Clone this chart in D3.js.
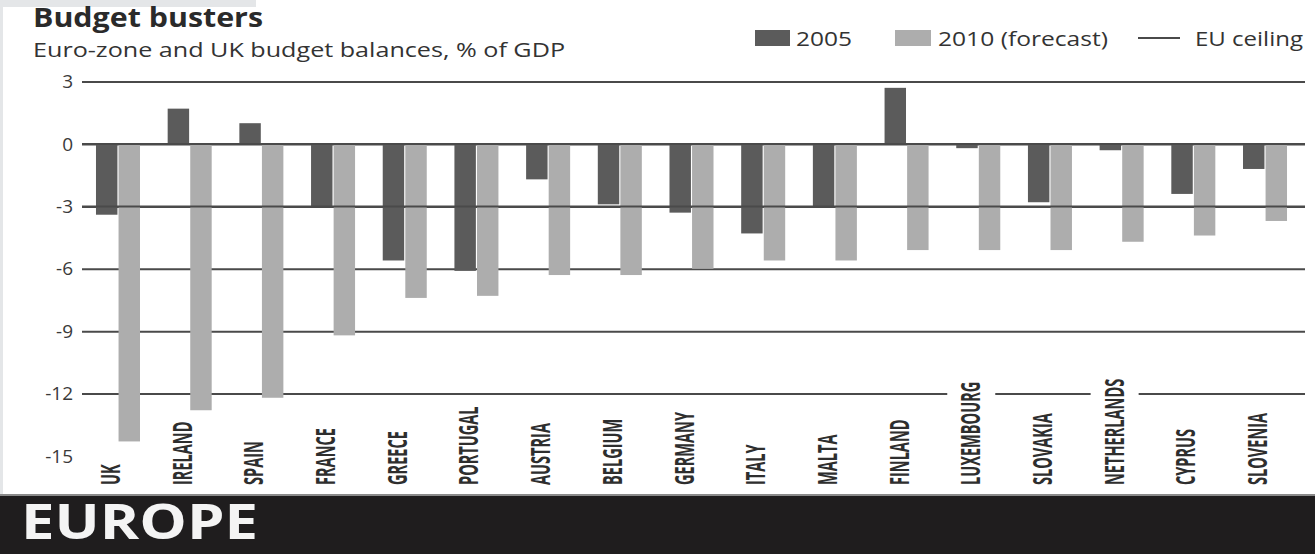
<!DOCTYPE html>
<html>
<head>
<meta charset="utf-8">
<script src="https://cdn.jsdelivr.net/npm/d3@7"></script>
<style>
  body { margin: 0; background: #ffffff; }
  #chart { width: 1315px; height: 554px; }
  text { font-family: "Open Sans", "DejaVu Sans", sans-serif; }
</style>
</head>
<body>
<div id="chart"></div>
<script>
// data
const countries = ["UK", "IRELAND", "SPAIN", "FRANCE", "GREECE", "PORTUGAL", "AUSTRIA", "BELGIUM",
    "GERMANY", "ITALY", "MALTA", "FINLAND", "LUXEMBOURG", "SLOVAKIA", "NETHERLANDS", "CYPRUS", "SLOVENIA"];
const bal2005 = [-3.4, 1.7, 1.0, -3.0, -5.6, -6.1, -1.7, -2.9, -3.3, -4.3, -3.0, 2.7, -0.2, -2.8, -0.3, -2.4, -1.2];
const bal2010 = [-14.3, -12.8, -12.2, -9.2, -7.4, -7.3, -6.3, -6.3, -6.0, -5.6, -5.6, -5.1, -5.1, -5.1, -4.7, -4.4, -3.7];
const seriesNames = ["2005", "2010 (forecast)"];
const yTicks = [3, 0, -3, -6, -9, -12, -15];
const euCeiling = -3;

const width = 1315;
const height = 554;

const svg = d3.select("#chart")
    .append("svg")
    .attr("width", width)
    .attr("height", height);

/*
BACKGROUND PIECES
*/
svg.append("rect").attr("x", 0).attr("y", 0).attr("width", 256).attr("height", 7).attr("fill", "#e4e6e8");
svg.append("rect").attr("x", 0).attr("y", 0).attr("width", 3).attr("height", 495).attr("fill", "#e4e6e8");

/*
SCALES
*/
const yScale = d3.scaleLinear()
    .domain([-15, 3])
    .range([456, 81.6]);

const xScale = d3.scaleBand()
    .domain(countries)
    .range([82, 1301])
    .paddingInner(0.386)
    .paddingOuter(0.195);

const xInner = d3.scaleBand()
    .domain(seriesNames)
    .range([0, xScale.bandwidth()])
    .paddingInner(0.05);

const colorScale = d3.scaleOrdinal()
    .domain(seriesNames)
    .range(["#5b5b5b", "#adadad"]);

const rows = countries.map(function(c, i) {
    return {country: c, values: [
        {series: seriesNames[0], value: bal2005[i]},
        {series: seriesNames[1], value: bal2010[i]}
    ]};
});

const lineColor = "#4a4a4a";
const gridRight = 1305;

/*
GRIDLINES (under bars)
*/
const grid = svg.append("g")
    .attr("transform", "translate(82,0)")
    .call(d3.axisRight(yScale)
        .tickValues(yTicks.filter(function(d) { return d > -15; }))
        .tickSize(gridRight - 82)
        .tickFormat(""));
grid.select(".domain").remove();
grid.selectAll(".tick line").attr("stroke", lineColor).attr("stroke-width", 2);

/*
COUNTRY LABELS (very condensed, rotated)
*/
const labelBottom = 485;
const labelFont = 26;
const squeeze = 0.56;

const labels = svg.append("g");
countries.forEach(function(c) {
    const cx = xScale(c) + xScale.bandwidth() / 2 - 7;
    labels.append("text")
        .attr("transform", `translate(${cx + 9},${labelBottom}) rotate(-90) scale(${squeeze},1)`)
        .attr("font-family", "'Liberation Sans Narrow', 'DejaVu Sans Condensed', sans-serif")
        .attr("font-weight", "bold")
        .attr("font-size", labelFont)
        .attr("fill", "#2e2e2e")
        .text(c);
});

// white rect behind each label so the -12 line breaks around long names
labels.selectAll("text").each(function(d, i) {
    const len = this.getComputedTextLength() * squeeze;
    const cx = xScale(countries[i]) + xScale.bandwidth() / 2 - 7;
    svg.insert("rect", "g.bars")
        .attr("x", cx - 24)
        .attr("y", labelBottom - len - 6)
        .attr("width", 48)
        .attr("height", len + 6)
        .attr("fill", "#ffffff");
});

/*
BARS
*/
const bars = svg.append("g").attr("class", "bars");
bars.selectAll("g")
    .data(rows)
    .enter()
    .append("g")
        .attr("transform", function(d) { return `translate(${xScale(d.country)},0)`; })
    .selectAll("rect")
    .data(function(d) { return d.values; })
    .enter()
    .append("rect")
        .attr("x", function(d) { return xInner(d.series); })
        .attr("width", xInner.bandwidth())
        .attr("y", function(d) { return yScale(Math.max(0, d.value)); })
        .attr("height", function(d) { return Math.abs(yScale(d.value) - yScale(0)); })
        .attr("fill", function(d) { return colorScale(d.series); });

/*
ZERO LINE + EU CEILING ON TOP
*/
[0, euCeiling].forEach(function(v) {
    svg.append("line")
        .attr("x1", 82).attr("x2", gridRight)
        .attr("y1", yScale(v)).attr("y2", yScale(v))
        .attr("stroke", lineColor)
        .attr("stroke-width", 2);
});

labels.raise();

/*
Y AXIS LABELS
*/
const yAxis = svg.append("g")
    .attr("transform", "translate(73,0)")
    .call(d3.axisLeft(yScale)
        .tickValues(yTicks)
        .tickSize(0)
        .tickPadding(0)
        .tickFormat(function(d) { return String(d); }));
yAxis.select(".domain").remove();
yAxis.selectAll("text")
    .attr("font-size", 19)
    .attr("font-family", "'Open Sans', sans-serif")
    .attr("fill", "#3a3a3a");

/*
TITLES
*/
svg.append("text")
    .attr("x", 33).attr("y", 27)
    .attr("font-size", 26)
    .attr("font-weight", "bold")
    .attr("fill", "#2a2a2a")
    .attr("textLength", 230)
    .attr("lengthAdjust", "spacingAndGlyphs")
    .text("Budget busters");

svg.append("text")
    .attr("x", 33).attr("y", 57)
    .attr("font-size", 20)
    .attr("fill", "#333333")
    .attr("textLength", 532)
    .attr("lengthAdjust", "spacingAndGlyphs")
    .text("Euro-zone and UK budget balances, % of GDP");

/*
LEGEND
*/
const legend = svg.append("g");
legend.append("rect").attr("x", 755).attr("y", 30).attr("width", 35).attr("height", 16).attr("fill", colorScale(seriesNames[0]));
legend.append("text").attr("x", 796).attr("y", 46).attr("font-size", 20).attr("fill", "#333333")
    .attr("textLength", 56).attr("lengthAdjust", "spacingAndGlyphs").text(seriesNames[0]);
legend.append("rect").attr("x", 895).attr("y", 30).attr("width", 36).attr("height", 16).attr("fill", colorScale(seriesNames[1]));
legend.append("text").attr("x", 938).attr("y", 46).attr("font-size", 20).attr("fill", "#333333")
    .attr("textLength", 170).attr("lengthAdjust", "spacingAndGlyphs").text(seriesNames[1]);
legend.append("line").attr("x1", 1138).attr("x2", 1180).attr("y1", 38).attr("y2", 38)
    .attr("stroke", lineColor).attr("stroke-width", 2);
legend.append("text").attr("x", 1195).attr("y", 46).attr("font-size", 20).attr("fill", "#333333")
    .attr("textLength", 108).attr("lengthAdjust", "spacingAndGlyphs").text("EU ceiling");

/*
BOTTOM BANNER
*/
svg.append("rect").attr("x", 0).attr("y", 494).attr("width", width).attr("height", 2).attr("fill", "#8a8a8a");
svg.append("rect").attr("x", 0).attr("y", 496).attr("width", width).attr("height", height - 496).attr("fill", "#1f1d1e");
svg.append("text")
    .attr("x", 21).attr("y", 539)
    .attr("font-family", "'Liberation Sans', Arial, sans-serif")
    .attr("font-size", 48)
    .attr("font-weight", "bold")
    .attr("fill", "#f4f4f4")
    .attr("textLength", 237)
    .attr("lengthAdjust", "spacingAndGlyphs")
    .text("EUROPE");
</script>
</body>
</html>
